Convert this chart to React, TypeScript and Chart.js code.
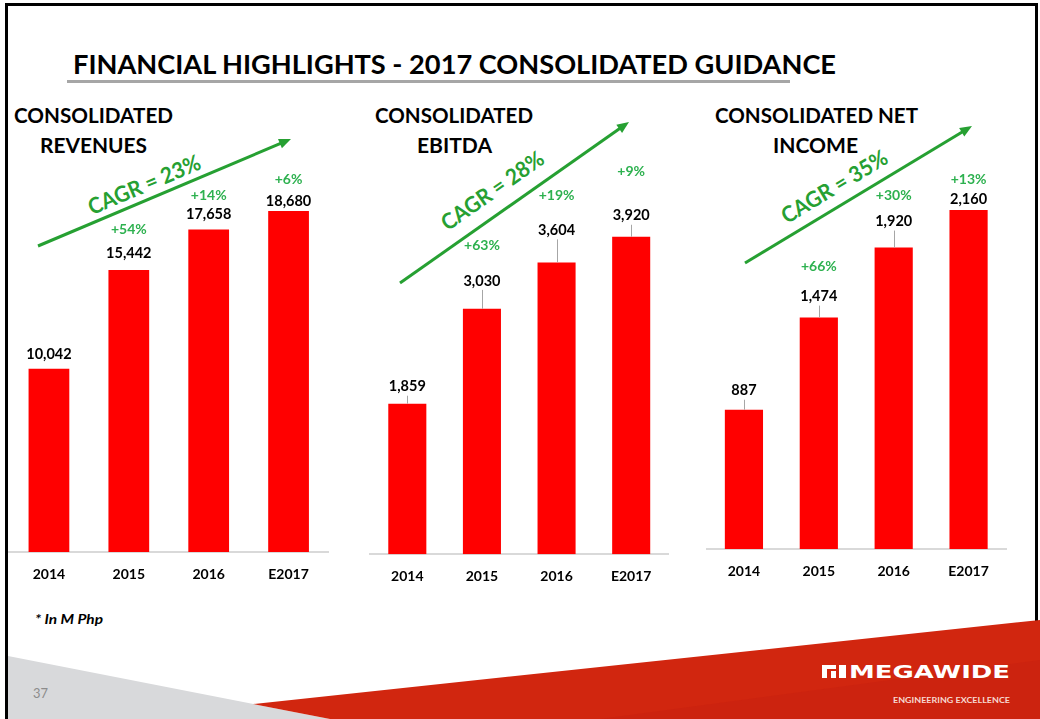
import React, { useEffect, useRef } from "react";
import { Chart, registerables } from "chart.js";

Chart.register(...registerables);

// ---------- data ----------
const categories = ["2014", "2015", "2016", "E2017"];
const revenues = [10042, 15442, 17658, 18680];
const ebitda = [1859, 3030, 3604, 3920];
const netIncome = [887, 1474, 1920, 2160];
const revenueGrowth = ["", "+54%", "+14%", "+6%"];
const ebitdaGrowth = ["", "+63%", "+19%", "+9%"];
const netIncomeGrowth = ["", "+66%", "+30%", "+13%"];
const cagrLabels = ["CAGR = 23%", "CAGR = 28%", "CAGR = 35%"];
const panelTitles = [
  ["CONSOLIDATED", "REVENUES"],
  ["CONSOLIDATED", "EBITDA"],
  ["CONSOLIDATED NET", "INCOME"],
];
const yMaxima = [20000, 4500, 2400];
const slideTitle = "FINANCIAL HIGHLIGHTS - 2017 CONSOLIDATED GUIDANCE";
const footnote = "* In M Php";
const pageNumber = "37";

// ---------- styles / layout ----------
const FONT = "Lato, 'Open Sans', sans-serif";
const RED = "#ff0000";
const CAGR_GREEN = "#26a032";
const PCT_GREEN = "#2db14f";

const panelLayout = [
  { left: 9, right: 328.5, top: 186.8, bottom: 552, labelLift: [14, 17, 15, 10], pctLift: [0, 41, 34, 31], leader: false },
  { left: 370, right: 668.5, top: 189.8, bottom: 554.3, labelLift: [17, 28, 32, 21], pctLift: [0, 63, 67, 65], leader: true },
  { left: 706.5, right: 1006, top: 172.2, bottom: 549, labelLift: [19, 21, 26, 10.5], pctLift: [0, 51, 52, 30], leader: true },
];

const panelSeries = [
  { values: revenues, growth: revenueGrowth },
  { values: ebitda, growth: ebitdaGrowth },
  { values: netIncome, growth: netIncomeGrowth },
];

const titleLayout = [
  [{ x: 14, y: 122.5, w: 159 }, { x: 40, y: 153, w: 107 }],
  [{ x: 375, y: 122.5, w: 158 }, { x: 417, y: 153, w: 75 }],
  [{ x: 715, y: 122.5, w: 203 }, { x: 773, y: 153, w: 85 }],
];

const arrowLayout = [
  { x1: 38, y1: 246, x2: 291, y2: 139, tx: 144, ty: 184 },
  { x1: 400, y1: 283, x2: 629, y2: 122, tx: 492, ty: 190 },
  { x1: 745, y1: 263, x2: 972, y2: 126, tx: 834, ty: 186 },
];

const fmt = (v: number) => v.toLocaleString("en-US");

function BarPanel({ idx }: { idx: number }) {
  const ref = useRef<HTMLCanvasElement | null>(null);
  const p = panelLayout[idx];
  const s = panelSeries[idx];
  const canvasLeft = Math.floor(p.left) - 12;
  const canvasTop = 100;
  const width = Math.ceil(p.right) + 12 - canvasLeft;
  const height = Math.round(p.bottom - canvasTop + 40);
  const axisH = height - (p.bottom - canvasTop);

  useEffect(() => {
    if (!ref.current) return;
    const labelPlugin = {
      id: "barLabels" + idx,
      afterDatasetsDraw(chart: any) {
        const ctx = chart.ctx as CanvasRenderingContext2D;
        const meta = chart.getDatasetMeta(0);
        ctx.save();
        ctx.textAlign = "center";
        ctx.textBaseline = "middle";
        meta.data.forEach((bar: any, i: number) => {
          const x = bar.x;
          const top = bar.y;
          const ly = top - p.labelLift[i];
          ctx.font = `bold 14.5px ${FONT}`;
          ctx.fillStyle = "#000000";
          ctx.fillText(fmt(s.values[i]), x, ly);
          if (p.leader && top - (ly + 8) > 3) {
            ctx.strokeStyle = "#a6a6a6";
            ctx.lineWidth = 1;
            ctx.beginPath();
            ctx.moveTo(Math.round(x) + 0.5, ly + 9);
            ctx.lineTo(Math.round(x) + 0.5, top);
            ctx.stroke();
          }
          if (s.growth[i]) {
            ctx.fillStyle = PCT_GREEN;
            ctx.font = `bold 14px ${FONT}`;
            ctx.fillText(s.growth[i], x, top - p.pctLift[i]);
          }
        });
        ctx.restore();
      },
    };
    const chart = new Chart(ref.current, {
      type: "bar",
      data: {
        labels: categories,
        datasets: [
          {
            data: s.values,
            backgroundColor: RED,
            borderWidth: 0,
            barPercentage: 0.51,
            categoryPercentage: 1,
          },
        ],
      },
      options: {
        responsive: false,
        animation: false,
        devicePixelRatio: 1,
        layout: {
          padding: {
            left: p.left - canvasLeft,
            right: canvasLeft + width - p.right,
            top: p.top - canvasTop,
            bottom: 0,
          },
        },
        plugins: {
          legend: { display: false },
          tooltip: { enabled: false },
          title: { display: false },
        },
        scales: {
          x: {
            grid: { display: false, drawTicks: false },
            border: { display: true, color: "#d9d9d9", width: 2 },
            ticks: {
              color: "#000000",
              font: { family: FONT, weight: "bold", size: 14 },
              padding: 14,
            },
            afterFit: (scale: any) => {
              scale.height = axisH;
            },
          },
          y: { display: false, min: 0, max: yMaxima[idx] },
        },
      },
      plugins: [labelPlugin],
    } as any);
    return () => chart.destroy();
  }, []);

  return (
    <canvas
      ref={ref}
      width={width}
      height={height}
      style={{ position: "absolute", left: canvasLeft, top: canvasTop, width, height }}
    />
  );
}

function Arrow({ a, label }: { a: any; label: string }) {
  const dx = a.x2 - a.x1;
  const dy = a.y2 - a.y1;
  const len = Math.hypot(dx, dy);
  const ux = dx / len;
  const uy = dy / len;
  const hl = 12;
  const hw = 5;
  const bx = a.x2 - ux * hl;
  const by = a.y2 - uy * hl;
  const pts = `${a.x2},${a.y2} ${bx - uy * hw},${by + ux * hw} ${bx + uy * hw},${by - ux * hw}`;
  const ang = (Math.atan2(dy, dx) * 180) / Math.PI;
  return (
    <g>
      <line x1={a.x1} y1={a.y1} x2={bx + ux * 2} y2={by + uy * 2} stroke={CAGR_GREEN} strokeWidth={3} />
      <polygon points={pts} fill={CAGR_GREEN} />
      <text
        x={a.tx}
        y={a.ty}
        textAnchor="middle"
        dominantBaseline="central"
        transform={`rotate(${ang} ${a.tx} ${a.ty})`}
        fill={CAGR_GREEN}
        fontFamily={FONT}
        fontWeight="bold"
        fontSize={22}
        textLength={120}
        lengthAdjust="spacingAndGlyphs"
      >
        {label}
      </text>
    </g>
  );
}

export default function App() {
  return (
    <div
      style={{
        position: "fixed",
        left: 0,
        top: 0,
        width: 1040,
        height: 719,
        background: "#ffffff",
        overflow: "hidden",
      }}
    >
      <svg width={1040} height={719} style={{ position: "absolute", left: 0, top: 0 }}>
        {/* frame */}
        <rect x={5} y={3} width={3} height={716} fill="#000" />
        <rect x={5} y={3} width={1033} height={3} fill="#000" />
        <rect x={1035} y={3} width={3} height={716} fill="#000" />
        {/* footer shapes */}
        <polygon points="8,656 330,719 8,719" fill="#d8d9db" />
        <polygon points="253,704 1040,620 1040,719 330,719" fill="#d1260f" />
        <polygon points="600,719 1040,660 1040,719" fill="#c82010" opacity={0.5} />
        {/* title */}
        <text x={73} y={74} fontFamily={FONT} fontWeight="bold" fontSize={26} fill="#000" textLength={763} lengthAdjust="spacingAndGlyphs">
          {slideTitle}
        </text>
        <rect x={67} y={80} width={723} height={3} fill="#a6a6a6" />
        {/* panel titles */}
        {panelTitles.map((lines, i) =>
          lines.map((t, j) => (
            <text
              key={`${i}-${j}`}
              x={titleLayout[i][j].x}
              y={titleLayout[i][j].y}
              fontFamily={FONT}
              fontWeight="bold"
              fontSize={21}
              fill="#000"
              textLength={titleLayout[i][j].w}
              lengthAdjust="spacingAndGlyphs"
            >
              {t}
            </text>
          ))
        )}
        {/* CAGR arrows */}
        {arrowLayout.map((a, i) => (
          <Arrow key={i} a={a} label={cagrLabels[i]} />
        ))}
        {/* footnote */}
        <text x={35} y={624} fontFamily={FONT} fontWeight="bold" fontStyle="italic" fontSize={14} fill="#000" textLength={68} lengthAdjust="spacingAndGlyphs">
          {footnote}
        </text>
        <text x={33} y={698} fontFamily={FONT} fontSize={14} fill="#8c8c8c" textLength={15} lengthAdjust="spacingAndGlyphs">
          {pageNumber}
        </text>
        {/* logo */}
        <g fill="#ffffff">
          <rect x={822} y={665} width={14} height={4} />
          <rect x={822} y={665} width={5} height={13} />
          <rect x={831} y={671} width={5} height={7} />
          <rect x={839} y={665} width={7} height={13} />
        </g>
        <text x={849} y={678} fontFamily="'DejaVu Sans', sans-serif" fontWeight="bold" fontSize={17.5} fill="#ffffff" textLength={161} lengthAdjust="spacingAndGlyphs">
          MEGAWIDE
        </text>
        <text x={893} y={703} fontFamily={FONT} fontWeight="bold" fontSize={7.5} fill="#f7d9d2" textLength={117} lengthAdjust="spacingAndGlyphs">
          ENGINEERING EXCELLENCE
        </text>
      </svg>
      <BarPanel idx={0} />
      <BarPanel idx={1} />
      <BarPanel idx={2} />
    </div>
  );
}
